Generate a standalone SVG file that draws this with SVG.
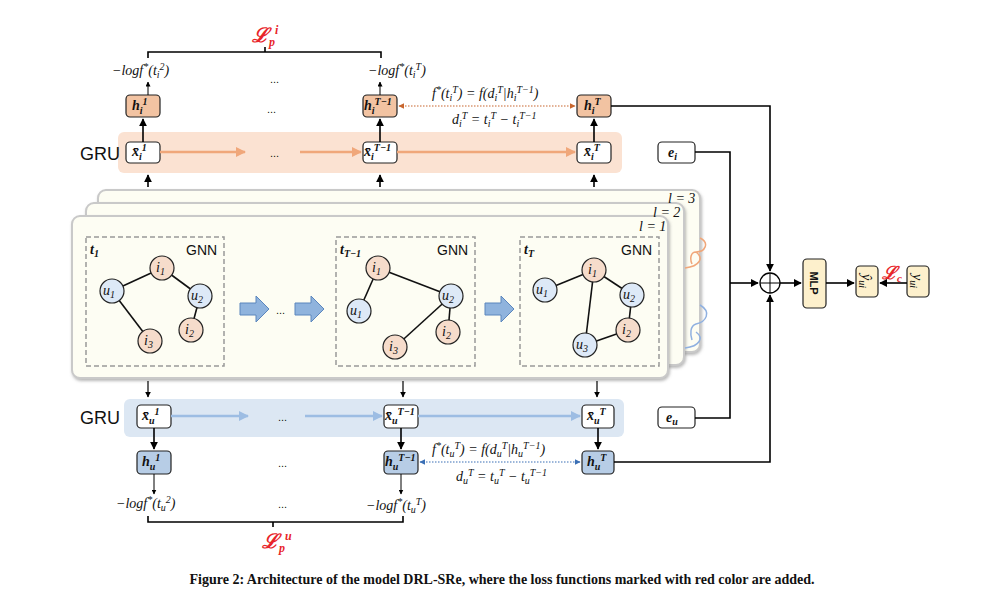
<svg xmlns="http://www.w3.org/2000/svg" width="1004" height="614" viewBox="0 0 1004 614">
<defs>
<style>
.m{font-family:"Liberation Serif",serif;font-style:italic;font-size:14px;fill:#111}
.b{font-weight:bold}
.s{font-size:10px}
.sans{font-family:"Liberation Sans",Arial,sans-serif;fill:#111}
.red{fill:#e8252a;font-family:"Liberation Serif",serif;font-style:italic;font-weight:bold}
.box{stroke:#222;stroke-width:1.2}
.ho{fill:#f2c3a2}.hu{fill:#b7cde6}.xw{fill:#fff}
.card{fill:#fdfdf3;stroke:#c9c9c9;stroke-width:2}
.dash{fill:none;stroke:#999;stroke-width:1.5;stroke-dasharray:5 3}
.ni{fill:#f6dccb;stroke:#222;stroke-width:1.2}
.nu{fill:#dde9f7;stroke:#222;stroke-width:1.2}
.e{stroke:#111;stroke-width:1.6}
.k{stroke:#000;stroke-width:1.6;fill:none}
</style>
<marker id="a" viewBox="0 0 10 10" refX="9" refY="5" markerWidth="5" markerHeight="5" orient="auto-start-reverse"><path d="M0,0L10,5L0,10z" fill="#000"/></marker>
<marker id="ao" viewBox="0 0 10 10" refX="9" refY="5" markerWidth="4" markerHeight="4" orient="auto"><path d="M0,0L10,5L0,10z" fill="#f0a77a"/></marker>
<marker id="ab" viewBox="0 0 10 10" refX="9" refY="5" markerWidth="4" markerHeight="4" orient="auto"><path d="M0,0L10,5L0,10z" fill="#9dbde3"/></marker>
<marker id="do" viewBox="0 0 10 10" refX="9" refY="5" markerWidth="5" markerHeight="5" orient="auto-start-reverse"><path d="M0,0L10,5L0,10z" fill="#c8662e"/></marker>
<marker id="db" viewBox="0 0 10 10" refX="9" refY="5" markerWidth="5" markerHeight="5" orient="auto-start-reverse"><path d="M0,0L10,5L0,10z" fill="#3a6fb5"/></marker>
<filter id="sh" x="-5%" y="-5%" width="110%" height="115%"><feDropShadow dx="1" dy="2" stdDeviation="1.5" flood-color="#888" flood-opacity="0.6"/></filter>
</defs>
<rect width="1004" height="614" fill="#fff"/>

<g id="gru-i">
<rect x="118" y="132" width="504" height="41" rx="6" fill="#fbe2d2"/>
<text x="80" y="160" class="sans" font-size="18">GRU</text>
<rect x="126" y="142" width="34" height="21" rx="4" class="box xw"/>
<text x="132" y="156" class="m b">x̄<tspan class="s" dy="4">i</tspan><tspan class="s" dy="-9">1</tspan></text>
<rect x="363" y="142" width="34" height="21" rx="4" class="box xw"/>
<text x="364" y="156" class="m b">x̄<tspan class="s" dy="4">i</tspan><tspan class="s" dy="-9">T−1</tspan></text>
<rect x="577" y="142" width="34" height="21" rx="4" class="box xw"/>
<text x="584" y="156" class="m b">x̄<tspan class="s" dy="4">i</tspan><tspan class="s" dy="-9">T</tspan></text>
<text x="270" y="157" class="sans" font-size="11">...</text>
</g>
<g id="h-i">
<rect x="126" y="95" width="34" height="22" rx="4" class="box ho"/>
<text x="132" y="110" class="m b">h<tspan class="s" dy="4">i</tspan><tspan class="s" dy="-9">1</tspan></text>
<rect x="363" y="95" width="34" height="22" rx="4" class="box ho"/>
<text x="364" y="110" class="m b">h<tspan class="s" dy="4">i</tspan><tspan class="s" dy="-9">T−1</tspan></text>
<rect x="577" y="95" width="34" height="22" rx="4" class="box ho"/>
<text x="584" y="110" class="m b">h<tspan class="s" dy="4">i</tspan><tspan class="s" dy="-9">T</tspan></text>
<text x="267" y="113" class="sans" font-size="11">...</text>
<text x="112" y="75" class="m">−logf<tspan class="s" dy="-5">*</tspan><tspan dy="5">(t</tspan><tspan class="s" dy="3">i</tspan><tspan class="s" dy="-8">2</tspan><tspan dy="5">)</tspan></text>
<text x="368" y="75" class="m">−logf<tspan class="s" dy="-5">*</tspan><tspan dy="5">(t</tspan><tspan class="s" dy="3">i</tspan><tspan class="s" dy="-8">T</tspan><tspan dy="5">)</tspan></text>
<text x="270" y="83" class="sans" font-size="11">...</text>
<path d="M148,58 V52 H381 V58 M265,52 V47" class="k" stroke-width="1"/>
<text x="252" y="42" class="red" font-size="20">ℒ<tspan font-size="12" dy="4">p</tspan><tspan font-size="12" dy="-12">i</tspan></text>
<text x="432" y="98" class="m" font-size="13">f<tspan class="s" dy="-5">*</tspan><tspan dy="5">(t</tspan><tspan class="s" dy="3">i</tspan><tspan class="s" dy="-8">T</tspan><tspan dy="5">) = f(d</tspan><tspan class="s" dy="3">i</tspan><tspan class="s" dy="-8">T</tspan><tspan dy="5">|h</tspan><tspan class="s" dy="3">i</tspan><tspan class="s" dy="-8">T−1</tspan><tspan dy="5">)</tspan></text>
<text x="452" y="124" class="m" font-size="13">d<tspan class="s" dy="3">i</tspan><tspan class="s" dy="-8">T</tspan><tspan dy="5"> = t</tspan><tspan class="s" dy="3">i</tspan><tspan class="s" dy="-8">T</tspan><tspan dy="5"> − t</tspan><tspan class="s" dy="3">i</tspan><tspan class="s" dy="-8">T−1</tspan></text>
</g>

<g id="gnn-stack">
<rect x="98" y="190" width="602" height="162" rx="8" class="card" filter="url(#sh)"/>
<rect x="86" y="203" width="598" height="162" rx="8" class="card" filter="url(#sh)"/>
<rect x="72" y="216" width="596" height="162" rx="8" class="card" filter="url(#sh)"/>
<text x="668" y="203" class="m" font-size="13">l = 3</text>
<text x="653" y="217" class="m" font-size="13">l = 2</text>
<text x="639" y="231" class="m" font-size="13">l = 1</text>
<path d="M685,268 C700,266 704,258 696,252 M700,238 C710,243 705,252 696,252 C690,252 690,260 692,264" fill="none" stroke="#f0a77a" stroke-width="1.5"/>
<path d="M685,348 C700,346 704,338 696,332 M700,305 C712,312 706,322 696,324 C690,326 690,334 692,340" fill="none" stroke="#8fb0e0" stroke-width="1.5"/>
</g>
<g id="gnn-t1">
<rect x="86" y="237" width="138" height="129" class="dash"/>
<text x="90" y="254" class="m b" font-size="15">t<tspan class="s" dy="3">1</tspan></text>
<text x="186" y="255" class="sans" font-size="14">GNN</text>
<line x1="112" y1="291" x2="162" y2="268" class="e"/><line x1="162" y1="268" x2="200" y2="296" class="e"/>
<line x1="200" y1="296" x2="191" y2="330" class="e"/><line x1="112" y1="291" x2="150" y2="341" class="e"/>
<circle cx="112" cy="291" r="12" class="nu"/><circle cx="162" cy="268" r="12" class="ni"/>
<circle cx="200" cy="296" r="12" class="nu"/><circle cx="191" cy="330" r="12" class="ni"/><circle cx="150" cy="341" r="12" class="ni"/>
<text x="103" y="295" class="m">u<tspan class="s" dy="3">1</tspan></text>
<text x="156" y="272" class="m">i<tspan class="s" dy="3">1</tspan></text>
<text x="191" y="300" class="m">u<tspan class="s" dy="3">2</tspan></text>
<text x="185" y="334" class="m">i<tspan class="s" dy="3">2</tspan></text>
<text x="144" y="345" class="m">i<tspan class="s" dy="3">3</tspan></text>
</g>
<g id="gnn-tT-1">
<rect x="336" y="237" width="139" height="129" class="dash"/>
<text x="340" y="254" class="m b" font-size="15">t<tspan class="s" dy="3">T−1</tspan></text>
<text x="437" y="255" class="sans" font-size="14">GNN</text>
<line x1="378" y1="268" x2="359" y2="311" class="e"/><line x1="378" y1="268" x2="451" y2="296" class="e"/>
<line x1="451" y1="296" x2="395" y2="347" class="e"/><line x1="451" y1="296" x2="448" y2="332" class="e"/>
<circle cx="378" cy="268" r="12" class="ni"/><circle cx="359" cy="311" r="12" class="nu"/>
<circle cx="451" cy="296" r="12" class="nu"/><circle cx="448" cy="332" r="12" class="ni"/><circle cx="395" cy="347" r="12" class="ni"/>
<text x="372" y="272" class="m">i<tspan class="s" dy="3">1</tspan></text>
<text x="350" y="315" class="m">u<tspan class="s" dy="3">1</tspan></text>
<text x="442" y="300" class="m">u<tspan class="s" dy="3">2</tspan></text>
<text x="442" y="336" class="m">i<tspan class="s" dy="3">2</tspan></text>
<text x="389" y="351" class="m">i<tspan class="s" dy="3">3</tspan></text>
</g>
<g id="gnn-tT">
<rect x="520" y="237" width="139" height="129" class="dash"/>
<text x="524" y="254" class="m b" font-size="15">t<tspan class="s" dy="3">T</tspan></text>
<text x="621" y="255" class="sans" font-size="14">GNN</text>
<line x1="545" y1="290" x2="594" y2="270" class="e"/><line x1="594" y1="270" x2="632" y2="295" class="e"/>
<line x1="632" y1="295" x2="628" y2="330" class="e"/><line x1="594" y1="270" x2="585" y2="345" class="e"/>
<line x1="585" y1="345" x2="628" y2="330" class="e"/>
<circle cx="545" cy="290" r="12" class="nu"/><circle cx="594" cy="270" r="12" class="ni"/>
<circle cx="632" cy="295" r="12" class="nu"/><circle cx="628" cy="330" r="12" class="ni"/><circle cx="585" cy="345" r="12" class="nu"/>
<text x="536" y="294" class="m">u<tspan class="s" dy="3">1</tspan></text>
<text x="588" y="274" class="m">i<tspan class="s" dy="3">1</tspan></text>
<text x="623" y="299" class="m">u<tspan class="s" dy="3">2</tspan></text>
<text x="622" y="334" class="m">i<tspan class="s" dy="3">2</tspan></text>
<text x="576" y="349" class="m">u<tspan class="s" dy="3">3</tspan></text>
</g>
<g id="block-arrows" fill="#8fb3dd" stroke="#5b86bd" stroke-width="1">
<path d="M240,303 H256 V296 L269,309 L256,322 V315 H240 Z"/>
<path d="M295,303 H311 V296 L324,309 L311,322 V315 H295 Z"/>
<path d="M485,303 H501 V296 L514,309 L501,322 V315 H485 Z"/>
<text x="276" y="314" class="sans" font-size="11" stroke="none" fill="#111">...</text>
</g>

<g id="gru-u">
<rect x="124" y="399" width="500" height="38" rx="6" fill="#dce7f3"/>
<text x="80" y="424" class="sans" font-size="18">GRU</text>
<rect x="137" y="405" width="34" height="23" rx="4" class="box xw"/>
<text x="142" y="420" class="m b">x̄<tspan class="s" dy="4">u</tspan><tspan class="s" dy="-9">1</tspan></text>
<rect x="384" y="405" width="34" height="23" rx="4" class="box xw"/>
<text x="385" y="420" class="m b">x̄<tspan class="s" dy="4">u</tspan><tspan class="s" dy="-9">T−1</tspan></text>
<rect x="582" y="405" width="32" height="23" rx="4" class="box xw"/>
<text x="587" y="420" class="m b">x̄<tspan class="s" dy="4">u</tspan><tspan class="s" dy="-9">T</tspan></text>
<text x="278" y="421" class="sans" font-size="11">...</text>
</g>
<g id="h-u">
<rect x="137" y="451" width="34" height="23" rx="4" class="box hu"/>
<text x="142" y="466" class="m b">h<tspan class="s" dy="4">u</tspan><tspan class="s" dy="-9">1</tspan></text>
<rect x="384" y="451" width="34" height="23" rx="4" class="box hu"/>
<text x="385" y="466" class="m b">h<tspan class="s" dy="4">u</tspan><tspan class="s" dy="-9">T−1</tspan></text>
<rect x="582" y="451" width="32" height="23" rx="4" class="box hu"/>
<text x="587" y="466" class="m b">h<tspan class="s" dy="4">u</tspan><tspan class="s" dy="-9">T</tspan></text>
<text x="278" y="467" class="sans" font-size="11">...</text>
<text x="116" y="508" class="m">−logf<tspan class="s" dy="-5">*</tspan><tspan dy="5">(t</tspan><tspan class="s" dy="3">u</tspan><tspan class="s" dy="-8">2</tspan><tspan dy="5">)</tspan></text>
<text x="366" y="510" class="m">−logf<tspan class="s" dy="-5">*</tspan><tspan dy="5">(t</tspan><tspan class="s" dy="3">u</tspan><tspan class="s" dy="-8">T</tspan><tspan dy="5">)</tspan></text>
<text x="278" y="508" class="sans" font-size="11">...</text>
<path d="M148,516 V522 H403 V516 M273,522 V527" class="k" stroke-width="1"/>
<text x="262" y="548" class="red" font-size="20">ℒ<tspan font-size="12" dy="4">p</tspan><tspan font-size="12" dy="-12">u</tspan></text>
<text x="432" y="454" class="m" font-size="13">f<tspan class="s" dy="-5">*</tspan><tspan dy="5">(t</tspan><tspan class="s" dy="3">u</tspan><tspan class="s" dy="-8">T</tspan><tspan dy="5">) = f(d</tspan><tspan class="s" dy="3">u</tspan><tspan class="s" dy="-8">T</tspan><tspan dy="5">|h</tspan><tspan class="s" dy="3">u</tspan><tspan class="s" dy="-8">T−1</tspan><tspan dy="5">)</tspan></text>
<text x="456" y="481" class="m" font-size="13">d<tspan class="s" dy="3">u</tspan><tspan class="s" dy="-8">T</tspan><tspan dy="5"> = t</tspan><tspan class="s" dy="3">u</tspan><tspan class="s" dy="-8">T</tspan><tspan dy="5"> − t</tspan><tspan class="s" dy="3">u</tspan><tspan class="s" dy="-8">T−1</tspan></text>
</g>

<g id="e-i"><rect x="658" y="142" width="37" height="21" rx="4" class="box xw"/><text x="668" y="157" class="m b">e<tspan class="s" dy="3">i</tspan></text></g>
<g id="e-u"><rect x="658" y="407" width="37" height="21" rx="4" class="box xw"/><text x="666" y="422" class="m b">e<tspan class="s" dy="3">u</tspan></text></g>
<g id="concat"><circle cx="770" cy="283" r="10" fill="#fff" stroke="#000" stroke-width="1.3"/><path d="M760,283H780M770,273V293" stroke="#000" stroke-width="1"/></g>
<g id="mlp"><rect x="803" y="259" width="23" height="49" rx="4" fill="#fdf0cc" stroke="#222" stroke-width="1.2"/><text transform="translate(810,283) rotate(90)" text-anchor="middle" class="sans b" font-size="11">MLP</text></g>
<g id="yhat"><rect x="856" y="266" width="22" height="31" rx="4" fill="#fdf0cc" stroke="#222" stroke-width="1.2"/><text transform="translate(862,281) rotate(90)" text-anchor="middle" class="m">ŷ<tspan class="s" dy="3">ui</tspan></text></g>
<g id="y"><rect x="907" y="266" width="22" height="31" rx="4" fill="#fdf0cc" stroke="#222" stroke-width="1.2"/><text transform="translate(913,281) rotate(90)" text-anchor="middle" class="m">y<tspan class="s" dy="3">ui</tspan></text></g>
<text x="882" y="279" class="red" font-size="18">ℒ<tspan font-size="11" dy="3">c</tspan></text>

<g id="connectors">
<g class="k" marker-end="url(#a)">
<path d="M148,95V82" stroke-width="1"/><path d="M380,95V82" stroke-width="1"/>
<path d="M143,142V119"/><path d="M380,142V119"/><path d="M594,142V119"/>
<path d="M148,187V175"/><path d="M380,187V175"/><path d="M594,187V175"/>
<path d="M148,381V397" stroke-width="1.2"/><path d="M403,381V397" stroke-width="1.2"/><path d="M597,381V397" stroke-width="1.2"/>
<path d="M154,428V449"/><path d="M401,428V449"/><path d="M598,428V449"/>
<path d="M154,474V494" stroke-width="1"/><path d="M401,474V494" stroke-width="1"/>
<path d="M730,283H758"/><path d="M611,106H770V271"/><path d="M614,462H770V295"/>
<path d="M780,283H801"/><path d="M826,283H854"/><path d="M907,283H880"/>
</g>
<path d="M695,152H730V418H695" class="k"/>
<g stroke="#f0a77a" stroke-width="2.5" marker-end="url(#ao)"><line x1="160" y1="152" x2="245" y2="152"/><line x1="300" y1="152" x2="361" y2="152"/><line x1="397" y1="152" x2="575" y2="152"/></g>
<g stroke="#9dbde3" stroke-width="2.5" marker-end="url(#ab)"><line x1="171" y1="416" x2="248" y2="416"/><line x1="305" y1="416" x2="382" y2="416"/><line x1="418" y1="416" x2="580" y2="416"/></g>
<line x1="399" y1="106" x2="575" y2="106" stroke="#c8662e" stroke-width="1.2" stroke-dasharray="1.5 1.5" marker-start="url(#do)" marker-end="url(#do)"/>
<line x1="420" y1="462" x2="580" y2="462" stroke="#3a6fb5" stroke-width="1.2" stroke-dasharray="1.5 1.5" marker-start="url(#db)" marker-end="url(#db)"/>
</g>

<text x="502" y="584" text-anchor="middle" font-family="Liberation Serif,serif" font-weight="bold" font-size="14" fill="#111">Figure 2: Architecture of the model DRL-SRe, where the loss functions marked with red color are added.</text>
</svg>
